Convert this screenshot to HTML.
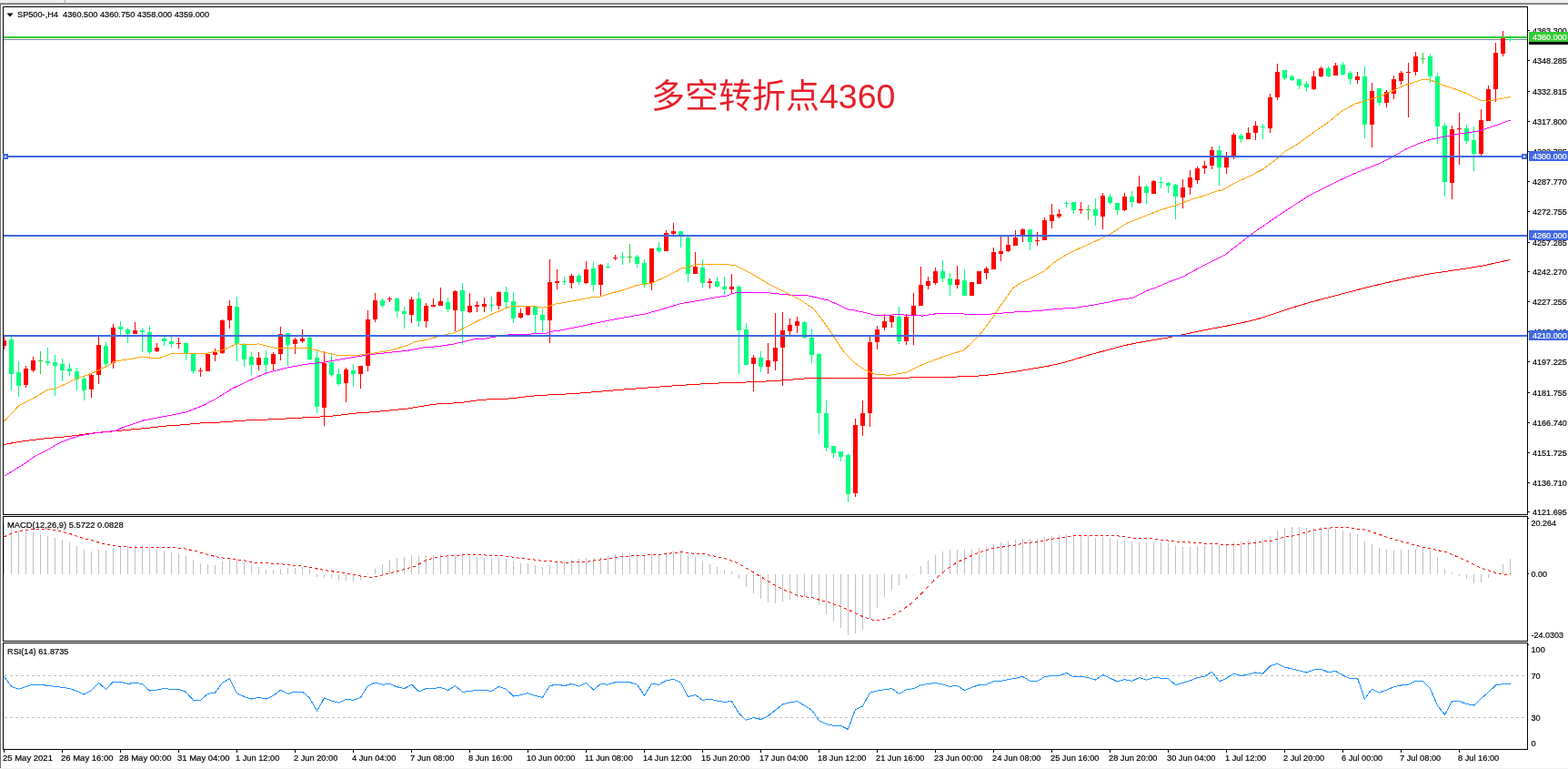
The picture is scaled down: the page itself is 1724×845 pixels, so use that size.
<!DOCTYPE html>
<html><head><meta charset="utf-8"><style>
html,body{margin:0;padding:0;background:#fff;}
body{width:1724px;height:845px;overflow:hidden;position:relative;}
#top{position:absolute;left:0;top:0;width:1724px;height:3px;background:#f0f0f0;}
#top2{position:absolute;left:0;top:3px;width:1724px;height:1px;background:#a0a0a0;}
#top3{position:absolute;left:0;top:4px;width:1724px;height:1px;background:#6d6d6d;}
#div{position:absolute;left:71px;top:0;width:1px;height:3px;background:#a0a0a0;border-right:1px solid #fff;}
#left{position:absolute;left:0;top:5px;width:1px;height:839px;background:#6d6d6d;}
#bot{position:absolute;left:0;top:844px;width:1724px;height:1px;background:#f0f0f0;}
svg{position:absolute;left:0;top:0;}
.ax{font-family:"Liberation Sans",sans-serif;font-size:9.6px;fill:#000;stroke:#000;stroke-width:0.2px;}
.cn{font-family:"Liberation Sans","Noto Sans CJK SC",sans-serif;font-size:37px;fill:#e6202a;}
</style></head><body>
<div id="top"></div><div id="top2"></div><div id="top3"></div><div id="div"></div><div id="left"></div><div id="bot"></div>
<svg width="1724" height="845" viewBox="0 0 1724 845">
<defs><clipPath id="cm"><rect x="4" y="8" width="1675" height="557"/></clipPath><clipPath id="cd"><rect x="4" y="568" width="1675" height="136"/></clipPath><clipPath id="cr"><rect x="4" y="707" width="1675" height="116"/></clipPath></defs><g clip-path="url(#cm)" shape-rendering="crispEdges"><rect x="4" y="43" width="1675" height="1" fill="#778899"/><rect x="4" y="370" width="1" height="14" fill="#ff0000"/><rect x="2" y="374" width="5" height="6" fill="#ff0000"/><rect x="12" y="370" width="1" height="59" fill="#00ff7f"/><rect x="10" y="373" width="5" height="38" fill="#00ff7f"/><rect x="20" y="397" width="1" height="39" fill="#00ff7f"/><rect x="18" y="409" width="5" height="15" fill="#00ff7f"/><rect x="28" y="402" width="1" height="24" fill="#ff0000"/><rect x="26" y="405" width="5" height="18" fill="#ff0000"/><rect x="36" y="392" width="1" height="17" fill="#ff0000"/><rect x="34" y="396" width="5" height="11" fill="#ff0000"/><rect x="44" y="386" width="1" height="25" fill="#32cd32"/><rect x="42" y="396" width="5" height="1" fill="#32cd32"/><rect x="52" y="382" width="1" height="20" fill="#00ff7f"/><rect x="50" y="397" width="5" height="2" fill="#00ff7f"/><rect x="60" y="390" width="1" height="45" fill="#00ff7f"/><rect x="58" y="398" width="5" height="4" fill="#00ff7f"/><rect x="68" y="394" width="1" height="25" fill="#00ff7f"/><rect x="66" y="400" width="5" height="7" fill="#00ff7f"/><rect x="76" y="399" width="1" height="14" fill="#00ff7f"/><rect x="74" y="405" width="5" height="3" fill="#00ff7f"/><rect x="84" y="404" width="1" height="25" fill="#00ff7f"/><rect x="82" y="408" width="5" height="9" fill="#00ff7f"/><rect x="92" y="413" width="1" height="27" fill="#00ff7f"/><rect x="90" y="416" width="5" height="13" fill="#00ff7f"/><rect x="100" y="411" width="1" height="26" fill="#ff0000"/><rect x="98" y="412" width="5" height="16" fill="#ff0000"/><rect x="108" y="370" width="1" height="52" fill="#ff0000"/><rect x="106" y="379" width="5" height="33" fill="#ff0000"/><rect x="116" y="376" width="1" height="28" fill="#00ff7f"/><rect x="114" y="380" width="5" height="20" fill="#00ff7f"/><rect x="124" y="356" width="1" height="49" fill="#ff0000"/><rect x="122" y="360" width="5" height="39" fill="#ff0000"/><rect x="132" y="353" width="1" height="15" fill="#00ff7f"/><rect x="130" y="359" width="5" height="3" fill="#00ff7f"/><rect x="140" y="360" width="1" height="17" fill="#00ff7f"/><rect x="138" y="362" width="5" height="5" fill="#00ff7f"/><rect x="148" y="354" width="1" height="13" fill="#ff0000"/><rect x="146" y="363" width="5" height="4" fill="#ff0000"/><rect x="156" y="361" width="1" height="26" fill="#00ff7f"/><rect x="154" y="363" width="5" height="2" fill="#00ff7f"/><rect x="164" y="358" width="1" height="31" fill="#00ff7f"/><rect x="162" y="365" width="5" height="22" fill="#00ff7f"/><rect x="172" y="377" width="1" height="10" fill="#ff0000"/><rect x="170" y="382" width="5" height="4" fill="#ff0000"/><rect x="180" y="370" width="1" height="10" fill="#00ff7f"/><rect x="178" y="372" width="5" height="3" fill="#00ff7f"/><rect x="188" y="370" width="1" height="12" fill="#00ff7f"/><rect x="186" y="375" width="5" height="3" fill="#00ff7f"/><rect x="196" y="371" width="1" height="12" fill="#ff0000"/><rect x="194" y="377" width="5" height="1" fill="#ff0000"/><rect x="204" y="376" width="1" height="20" fill="#00ff7f"/><rect x="202" y="377" width="5" height="11" fill="#00ff7f"/><rect x="212" y="388" width="1" height="23" fill="#00ff7f"/><rect x="210" y="389" width="5" height="19" fill="#00ff7f"/><rect x="220" y="404" width="1" height="10" fill="#ff0000"/><rect x="218" y="407" width="5" height="1" fill="#ff0000"/><rect x="228" y="389" width="1" height="19" fill="#ff0000"/><rect x="226" y="389" width="5" height="19" fill="#ff0000"/><rect x="236" y="383" width="1" height="14" fill="#ff0000"/><rect x="234" y="387" width="5" height="3" fill="#ff0000"/><rect x="244" y="351" width="1" height="38" fill="#ff0000"/><rect x="242" y="352" width="5" height="36" fill="#ff0000"/><rect x="252" y="330" width="1" height="31" fill="#ff0000"/><rect x="250" y="336" width="5" height="16" fill="#ff0000"/><rect x="260" y="326" width="1" height="71" fill="#00ff7f"/><rect x="258" y="337" width="5" height="41" fill="#00ff7f"/><rect x="268" y="377" width="1" height="26" fill="#00ff7f"/><rect x="266" y="379" width="5" height="16" fill="#00ff7f"/><rect x="276" y="387" width="1" height="25" fill="#00ff7f"/><rect x="274" y="392" width="5" height="9" fill="#00ff7f"/><rect x="284" y="387" width="1" height="20" fill="#ff0000"/><rect x="282" y="393" width="5" height="8" fill="#ff0000"/><rect x="292" y="385" width="1" height="25" fill="#00ff7f"/><rect x="290" y="393" width="5" height="8" fill="#00ff7f"/><rect x="300" y="387" width="1" height="20" fill="#ff0000"/><rect x="298" y="389" width="5" height="11" fill="#ff0000"/><rect x="308" y="359" width="1" height="37" fill="#ff0000"/><rect x="306" y="367" width="5" height="22" fill="#ff0000"/><rect x="316" y="366" width="1" height="36" fill="#00ff7f"/><rect x="314" y="366" width="5" height="13" fill="#00ff7f"/><rect x="324" y="371" width="1" height="18" fill="#ff0000"/><rect x="322" y="373" width="5" height="5" fill="#ff0000"/><rect x="332" y="362" width="1" height="15" fill="#ff0000"/><rect x="330" y="372" width="5" height="3" fill="#ff0000"/><rect x="340" y="370" width="1" height="26" fill="#00ff7f"/><rect x="338" y="371" width="5" height="24" fill="#00ff7f"/><rect x="348" y="384" width="1" height="70" fill="#00ff7f"/><rect x="346" y="393" width="5" height="54" fill="#00ff7f"/><rect x="356" y="386" width="1" height="82" fill="#ff0000"/><rect x="354" y="399" width="5" height="49" fill="#ff0000"/><rect x="364" y="388" width="1" height="26" fill="#00ff7f"/><rect x="362" y="398" width="5" height="14" fill="#00ff7f"/><rect x="372" y="405" width="1" height="19" fill="#00ff7f"/><rect x="370" y="411" width="5" height="11" fill="#00ff7f"/><rect x="380" y="404" width="1" height="38" fill="#ff0000"/><rect x="378" y="406" width="5" height="15" fill="#ff0000"/><rect x="388" y="400" width="1" height="24" fill="#00ff7f"/><rect x="386" y="407" width="5" height="4" fill="#00ff7f"/><rect x="396" y="402" width="1" height="25" fill="#ff0000"/><rect x="394" y="402" width="5" height="9" fill="#ff0000"/><rect x="404" y="341" width="1" height="67" fill="#ff0000"/><rect x="402" y="351" width="5" height="51" fill="#ff0000"/><rect x="412" y="322" width="1" height="32" fill="#ff0000"/><rect x="410" y="330" width="5" height="21" fill="#ff0000"/><rect x="420" y="328" width="1" height="10" fill="#00ff7f"/><rect x="418" y="330" width="5" height="6" fill="#00ff7f"/><rect x="428" y="326" width="1" height="6" fill="#ff0000"/><rect x="426" y="328" width="5" height="1" fill="#ff0000"/><rect x="436" y="327" width="1" height="22" fill="#00ff7f"/><rect x="434" y="328" width="5" height="14" fill="#00ff7f"/><rect x="444" y="337" width="1" height="24" fill="#00ff7f"/><rect x="442" y="342" width="5" height="3" fill="#00ff7f"/><rect x="452" y="326" width="1" height="29" fill="#ff0000"/><rect x="450" y="329" width="5" height="17" fill="#ff0000"/><rect x="460" y="321" width="1" height="38" fill="#00ff7f"/><rect x="458" y="328" width="5" height="25" fill="#00ff7f"/><rect x="468" y="333" width="1" height="27" fill="#ff0000"/><rect x="466" y="336" width="5" height="17" fill="#ff0000"/><rect x="476" y="328" width="1" height="9" fill="#ff0000"/><rect x="474" y="335" width="5" height="2" fill="#ff0000"/><rect x="484" y="316" width="1" height="20" fill="#ff0000"/><rect x="482" y="331" width="5" height="5" fill="#ff0000"/><rect x="492" y="327" width="1" height="16" fill="#00ff7f"/><rect x="490" y="332" width="5" height="8" fill="#00ff7f"/><rect x="500" y="319" width="1" height="45" fill="#ff0000"/><rect x="498" y="320" width="5" height="21" fill="#ff0000"/><rect x="508" y="311" width="1" height="68" fill="#00ff7f"/><rect x="506" y="319" width="5" height="23" fill="#00ff7f"/><rect x="516" y="322" width="1" height="22" fill="#ff0000"/><rect x="514" y="336" width="5" height="7" fill="#ff0000"/><rect x="524" y="331" width="1" height="12" fill="#ff0000"/><rect x="522" y="335" width="5" height="2" fill="#ff0000"/><rect x="532" y="327" width="1" height="16" fill="#ff0000"/><rect x="530" y="334" width="5" height="3" fill="#ff0000"/><rect x="540" y="326" width="1" height="16" fill="#00ff7f"/><rect x="538" y="335" width="5" height="1" fill="#00ff7f"/><rect x="548" y="320" width="1" height="20" fill="#ff0000"/><rect x="546" y="321" width="5" height="15" fill="#ff0000"/><rect x="556" y="315" width="1" height="23" fill="#00ff7f"/><rect x="554" y="321" width="5" height="11" fill="#00ff7f"/><rect x="564" y="321" width="1" height="34" fill="#00ff7f"/><rect x="562" y="331" width="5" height="19" fill="#00ff7f"/><rect x="572" y="339" width="1" height="11" fill="#ff0000"/><rect x="570" y="344" width="5" height="5" fill="#ff0000"/><rect x="580" y="337" width="1" height="10" fill="#ff0000"/><rect x="578" y="337" width="5" height="9" fill="#ff0000"/><rect x="588" y="336" width="1" height="30" fill="#00ff7f"/><rect x="586" y="337" width="5" height="9" fill="#00ff7f"/><rect x="596" y="340" width="1" height="25" fill="#00ff7f"/><rect x="594" y="346" width="5" height="6" fill="#00ff7f"/><rect x="604" y="285" width="1" height="92" fill="#ff0000"/><rect x="602" y="310" width="5" height="42" fill="#ff0000"/><rect x="612" y="296" width="1" height="22" fill="#ff0000"/><rect x="610" y="309" width="5" height="2" fill="#ff0000"/><rect x="620" y="304" width="1" height="9" fill="#00ff7f"/><rect x="618" y="309" width="5" height="1" fill="#00ff7f"/><rect x="628" y="301" width="1" height="16" fill="#ff0000"/><rect x="626" y="303" width="5" height="8" fill="#ff0000"/><rect x="636" y="301" width="1" height="12" fill="#00ff7f"/><rect x="634" y="303" width="5" height="7" fill="#00ff7f"/><rect x="644" y="287" width="1" height="25" fill="#ff0000"/><rect x="642" y="296" width="5" height="15" fill="#ff0000"/><rect x="652" y="288" width="1" height="32" fill="#00ff7f"/><rect x="650" y="295" width="5" height="18" fill="#00ff7f"/><rect x="660" y="290" width="1" height="35" fill="#ff0000"/><rect x="658" y="291" width="5" height="22" fill="#ff0000"/><rect x="668" y="289" width="1" height="6" fill="#00ff7f"/><rect x="666" y="293" width="5" height="1" fill="#00ff7f"/><rect x="676" y="280" width="1" height="6" fill="#ff0000"/><rect x="674" y="283" width="5" height="1" fill="#ff0000"/><rect x="684" y="277" width="1" height="14" fill="#00ff7f"/><rect x="682" y="282" width="5" height="1" fill="#00ff7f"/><rect x="692" y="268" width="1" height="21" fill="#32cd32"/><rect x="690" y="282" width="5" height="1" fill="#32cd32"/><rect x="700" y="280" width="1" height="14" fill="#00ff7f"/><rect x="698" y="282" width="5" height="8" fill="#00ff7f"/><rect x="708" y="285" width="1" height="31" fill="#00ff7f"/><rect x="706" y="289" width="5" height="23" fill="#00ff7f"/><rect x="716" y="273" width="1" height="46" fill="#ff0000"/><rect x="714" y="273" width="5" height="38" fill="#ff0000"/><rect x="724" y="266" width="1" height="12" fill="#00ff7f"/><rect x="722" y="272" width="5" height="4" fill="#00ff7f"/><rect x="732" y="253" width="1" height="23" fill="#ff0000"/><rect x="730" y="256" width="5" height="20" fill="#ff0000"/><rect x="740" y="245" width="1" height="13" fill="#ff0000"/><rect x="738" y="254" width="5" height="3" fill="#ff0000"/><rect x="748" y="254" width="1" height="18" fill="#00ff7f"/><rect x="746" y="254" width="5" height="6" fill="#00ff7f"/><rect x="756" y="260" width="1" height="50" fill="#00ff7f"/><rect x="754" y="261" width="5" height="40" fill="#00ff7f"/><rect x="764" y="277" width="1" height="24" fill="#ff0000"/><rect x="762" y="293" width="5" height="8" fill="#ff0000"/><rect x="772" y="285" width="1" height="31" fill="#00ff7f"/><rect x="770" y="294" width="5" height="17" fill="#00ff7f"/><rect x="780" y="306" width="1" height="11" fill="#ff0000"/><rect x="778" y="309" width="5" height="2" fill="#ff0000"/><rect x="788" y="304" width="1" height="12" fill="#00ff7f"/><rect x="786" y="309" width="5" height="6" fill="#00ff7f"/><rect x="796" y="304" width="1" height="20" fill="#00ff7f"/><rect x="794" y="315" width="5" height="3" fill="#00ff7f"/><rect x="804" y="301" width="1" height="21" fill="#ff0000"/><rect x="802" y="315" width="5" height="3" fill="#ff0000"/><rect x="812" y="313" width="1" height="98" fill="#00ff7f"/><rect x="810" y="315" width="5" height="48" fill="#00ff7f"/><rect x="820" y="355" width="1" height="46" fill="#00ff7f"/><rect x="818" y="362" width="5" height="39" fill="#00ff7f"/><rect x="828" y="390" width="1" height="40" fill="#ff0000"/><rect x="826" y="393" width="5" height="7" fill="#ff0000"/><rect x="836" y="386" width="1" height="23" fill="#00ff7f"/><rect x="834" y="393" width="5" height="10" fill="#00ff7f"/><rect x="844" y="377" width="1" height="34" fill="#ff0000"/><rect x="842" y="396" width="5" height="7" fill="#ff0000"/><rect x="852" y="344" width="1" height="63" fill="#ff0000"/><rect x="850" y="382" width="5" height="15" fill="#ff0000"/><rect x="860" y="343" width="1" height="81" fill="#ff0000"/><rect x="858" y="363" width="5" height="19" fill="#ff0000"/><rect x="868" y="350" width="1" height="18" fill="#ff0000"/><rect x="866" y="357" width="5" height="7" fill="#ff0000"/><rect x="876" y="348" width="1" height="18" fill="#ff0000"/><rect x="874" y="353" width="5" height="5" fill="#ff0000"/><rect x="884" y="353" width="1" height="19" fill="#00ff7f"/><rect x="882" y="354" width="5" height="17" fill="#00ff7f"/><rect x="892" y="361" width="1" height="38" fill="#00ff7f"/><rect x="890" y="371" width="5" height="19" fill="#00ff7f"/><rect x="900" y="388" width="1" height="89" fill="#00ff7f"/><rect x="898" y="389" width="5" height="65" fill="#00ff7f"/><rect x="908" y="440" width="1" height="56" fill="#00ff7f"/><rect x="906" y="454" width="5" height="38" fill="#00ff7f"/><rect x="916" y="490" width="1" height="13" fill="#00ff7f"/><rect x="914" y="490" width="5" height="8" fill="#00ff7f"/><rect x="924" y="496" width="1" height="11" fill="#00ff7f"/><rect x="922" y="496" width="5" height="6" fill="#00ff7f"/><rect x="932" y="498" width="1" height="54" fill="#00ff7f"/><rect x="930" y="500" width="5" height="43" fill="#00ff7f"/><rect x="940" y="460" width="1" height="86" fill="#ff0000"/><rect x="938" y="467" width="5" height="75" fill="#ff0000"/><rect x="948" y="440" width="1" height="39" fill="#ff0000"/><rect x="946" y="454" width="5" height="14" fill="#ff0000"/><rect x="956" y="370" width="1" height="99" fill="#ff0000"/><rect x="954" y="376" width="5" height="78" fill="#ff0000"/><rect x="964" y="358" width="1" height="26" fill="#ff0000"/><rect x="962" y="362" width="5" height="14" fill="#ff0000"/><rect x="972" y="345" width="1" height="18" fill="#ff0000"/><rect x="970" y="353" width="5" height="7" fill="#ff0000"/><rect x="980" y="347" width="1" height="13" fill="#ff0000"/><rect x="978" y="347" width="5" height="7" fill="#ff0000"/><rect x="988" y="337" width="1" height="41" fill="#00ff7f"/><rect x="986" y="348" width="5" height="27" fill="#00ff7f"/><rect x="996" y="345" width="1" height="34" fill="#ff0000"/><rect x="994" y="348" width="5" height="27" fill="#ff0000"/><rect x="1004" y="322" width="1" height="57" fill="#ff0000"/><rect x="1002" y="336" width="5" height="11" fill="#ff0000"/><rect x="1012" y="293" width="1" height="43" fill="#ff0000"/><rect x="1010" y="313" width="5" height="23" fill="#ff0000"/><rect x="1020" y="304" width="1" height="14" fill="#ff0000"/><rect x="1018" y="309" width="5" height="5" fill="#ff0000"/><rect x="1028" y="294" width="1" height="19" fill="#ff0000"/><rect x="1026" y="298" width="5" height="13" fill="#ff0000"/><rect x="1036" y="286" width="1" height="24" fill="#00ff7f"/><rect x="1034" y="298" width="5" height="8" fill="#00ff7f"/><rect x="1044" y="300" width="1" height="25" fill="#00ff7f"/><rect x="1042" y="306" width="5" height="7" fill="#00ff7f"/><rect x="1052" y="292" width="1" height="25" fill="#ff0000"/><rect x="1050" y="307" width="5" height="6" fill="#ff0000"/><rect x="1060" y="296" width="1" height="29" fill="#00ff7f"/><rect x="1058" y="308" width="5" height="17" fill="#00ff7f"/><rect x="1068" y="310" width="1" height="15" fill="#ff0000"/><rect x="1066" y="310" width="5" height="15" fill="#ff0000"/><rect x="1076" y="298" width="1" height="14" fill="#ff0000"/><rect x="1074" y="298" width="5" height="14" fill="#ff0000"/><rect x="1084" y="293" width="1" height="14" fill="#ff0000"/><rect x="1082" y="295" width="5" height="5" fill="#ff0000"/><rect x="1092" y="272" width="1" height="24" fill="#ff0000"/><rect x="1090" y="277" width="5" height="19" fill="#ff0000"/><rect x="1100" y="260" width="1" height="27" fill="#ff0000"/><rect x="1098" y="276" width="5" height="3" fill="#ff0000"/><rect x="1108" y="260" width="1" height="17" fill="#ff0000"/><rect x="1106" y="269" width="5" height="7" fill="#ff0000"/><rect x="1116" y="253" width="1" height="17" fill="#ff0000"/><rect x="1114" y="261" width="5" height="9" fill="#ff0000"/><rect x="1124" y="251" width="1" height="15" fill="#ff0000"/><rect x="1122" y="252" width="5" height="8" fill="#ff0000"/><rect x="1132" y="252" width="1" height="23" fill="#00ff7f"/><rect x="1130" y="252" width="5" height="14" fill="#00ff7f"/><rect x="1140" y="255" width="1" height="15" fill="#ff0000"/><rect x="1138" y="264" width="5" height="1" fill="#ff0000"/><rect x="1148" y="239" width="1" height="25" fill="#ff0000"/><rect x="1146" y="242" width="5" height="22" fill="#ff0000"/><rect x="1156" y="224" width="1" height="27" fill="#ff0000"/><rect x="1154" y="236" width="5" height="7" fill="#ff0000"/><rect x="1164" y="230" width="1" height="10" fill="#ff0000"/><rect x="1162" y="235" width="5" height="3" fill="#ff0000"/><rect x="1172" y="221" width="1" height="7" fill="#00ff7f"/><rect x="1170" y="223" width="5" height="1" fill="#00ff7f"/><rect x="1180" y="222" width="1" height="13" fill="#00ff7f"/><rect x="1178" y="222" width="5" height="9" fill="#00ff7f"/><rect x="1188" y="222" width="1" height="13" fill="#ff0000"/><rect x="1186" y="230" width="5" height="1" fill="#ff0000"/><rect x="1196" y="225" width="1" height="17" fill="#32cd32"/><rect x="1194" y="230" width="5" height="1" fill="#32cd32"/><rect x="1204" y="218" width="1" height="30" fill="#00ff7f"/><rect x="1202" y="230" width="5" height="7" fill="#00ff7f"/><rect x="1212" y="212" width="1" height="40" fill="#ff0000"/><rect x="1210" y="215" width="5" height="23" fill="#ff0000"/><rect x="1220" y="213" width="1" height="12" fill="#00ff7f"/><rect x="1218" y="216" width="5" height="7" fill="#00ff7f"/><rect x="1228" y="223" width="1" height="13" fill="#00ff7f"/><rect x="1226" y="223" width="5" height="8" fill="#00ff7f"/><rect x="1236" y="212" width="1" height="20" fill="#ff0000"/><rect x="1234" y="216" width="5" height="15" fill="#ff0000"/><rect x="1244" y="210" width="1" height="18" fill="#00ff7f"/><rect x="1242" y="216" width="5" height="6" fill="#00ff7f"/><rect x="1252" y="193" width="1" height="31" fill="#ff0000"/><rect x="1250" y="205" width="5" height="18" fill="#ff0000"/><rect x="1260" y="203" width="1" height="21" fill="#00ff7f"/><rect x="1258" y="205" width="5" height="7" fill="#00ff7f"/><rect x="1268" y="198" width="1" height="15" fill="#ff0000"/><rect x="1266" y="199" width="5" height="14" fill="#ff0000"/><rect x="1276" y="195" width="1" height="12" fill="#00ff7f"/><rect x="1274" y="200" width="5" height="1" fill="#00ff7f"/><rect x="1284" y="200" width="1" height="12" fill="#00ff7f"/><rect x="1282" y="201" width="5" height="3" fill="#00ff7f"/><rect x="1292" y="202" width="1" height="39" fill="#00ff7f"/><rect x="1290" y="203" width="5" height="13" fill="#00ff7f"/><rect x="1300" y="197" width="1" height="32" fill="#ff0000"/><rect x="1298" y="206" width="5" height="11" fill="#ff0000"/><rect x="1308" y="187" width="1" height="27" fill="#ff0000"/><rect x="1306" y="195" width="5" height="11" fill="#ff0000"/><rect x="1316" y="183" width="1" height="19" fill="#ff0000"/><rect x="1314" y="185" width="5" height="13" fill="#ff0000"/><rect x="1324" y="177" width="1" height="14" fill="#ff0000"/><rect x="1322" y="182" width="5" height="3" fill="#ff0000"/><rect x="1332" y="161" width="1" height="25" fill="#ff0000"/><rect x="1330" y="165" width="5" height="17" fill="#ff0000"/><rect x="1340" y="160" width="1" height="44" fill="#00ff7f"/><rect x="1338" y="165" width="5" height="19" fill="#00ff7f"/><rect x="1348" y="167" width="1" height="24" fill="#ff0000"/><rect x="1346" y="173" width="5" height="11" fill="#ff0000"/><rect x="1356" y="146" width="1" height="29" fill="#ff0000"/><rect x="1354" y="148" width="5" height="24" fill="#ff0000"/><rect x="1364" y="147" width="1" height="10" fill="#00ff7f"/><rect x="1362" y="149" width="5" height="4" fill="#00ff7f"/><rect x="1372" y="140" width="1" height="13" fill="#ff0000"/><rect x="1370" y="146" width="5" height="7" fill="#ff0000"/><rect x="1380" y="133" width="1" height="21" fill="#ff0000"/><rect x="1378" y="138" width="5" height="8" fill="#ff0000"/><rect x="1388" y="136" width="1" height="17" fill="#00ff7f"/><rect x="1386" y="139" width="5" height="1" fill="#00ff7f"/><rect x="1396" y="103" width="1" height="43" fill="#ff0000"/><rect x="1394" y="107" width="5" height="34" fill="#ff0000"/><rect x="1404" y="70" width="1" height="40" fill="#ff0000"/><rect x="1402" y="79" width="5" height="28" fill="#ff0000"/><rect x="1412" y="77" width="1" height="11" fill="#00ff7f"/><rect x="1410" y="77" width="5" height="9" fill="#00ff7f"/><rect x="1420" y="82" width="1" height="7" fill="#00ff7f"/><rect x="1418" y="84" width="5" height="4" fill="#00ff7f"/><rect x="1428" y="87" width="1" height="11" fill="#00ff7f"/><rect x="1426" y="87" width="5" height="7" fill="#00ff7f"/><rect x="1436" y="89" width="1" height="12" fill="#00ff7f"/><rect x="1434" y="92" width="5" height="4" fill="#00ff7f"/><rect x="1444" y="78" width="1" height="21" fill="#ff0000"/><rect x="1442" y="84" width="5" height="14" fill="#ff0000"/><rect x="1452" y="73" width="1" height="12" fill="#ff0000"/><rect x="1450" y="75" width="5" height="9" fill="#ff0000"/><rect x="1460" y="73" width="1" height="12" fill="#00ff7f"/><rect x="1458" y="75" width="5" height="9" fill="#00ff7f"/><rect x="1468" y="69" width="1" height="14" fill="#ff0000"/><rect x="1466" y="72" width="5" height="11" fill="#ff0000"/><rect x="1476" y="68" width="1" height="15" fill="#00ff7f"/><rect x="1474" y="71" width="5" height="11" fill="#00ff7f"/><rect x="1484" y="78" width="1" height="15" fill="#00ff7f"/><rect x="1482" y="80" width="5" height="7" fill="#00ff7f"/><rect x="1492" y="79" width="1" height="13" fill="#ff0000"/><rect x="1490" y="84" width="5" height="4" fill="#ff0000"/><rect x="1500" y="73" width="1" height="79" fill="#00ff7f"/><rect x="1498" y="84" width="5" height="53" fill="#00ff7f"/><rect x="1508" y="91" width="1" height="71" fill="#ff0000"/><rect x="1506" y="100" width="5" height="37" fill="#ff0000"/><rect x="1516" y="97" width="1" height="19" fill="#00ff7f"/><rect x="1514" y="97" width="5" height="16" fill="#00ff7f"/><rect x="1524" y="99" width="1" height="19" fill="#ff0000"/><rect x="1522" y="101" width="5" height="12" fill="#ff0000"/><rect x="1532" y="83" width="1" height="26" fill="#ff0000"/><rect x="1530" y="87" width="5" height="16" fill="#ff0000"/><rect x="1540" y="78" width="1" height="15" fill="#ff0000"/><rect x="1538" y="80" width="5" height="9" fill="#ff0000"/><rect x="1548" y="69" width="1" height="60" fill="#ff0000"/><rect x="1546" y="79" width="5" height="1" fill="#ff0000"/><rect x="1556" y="57" width="1" height="26" fill="#ff0000"/><rect x="1554" y="62" width="5" height="17" fill="#ff0000"/><rect x="1564" y="58" width="1" height="12" fill="#32cd32"/><rect x="1562" y="64" width="5" height="1" fill="#32cd32"/><rect x="1572" y="59" width="1" height="32" fill="#00ff7f"/><rect x="1570" y="62" width="5" height="22" fill="#00ff7f"/><rect x="1580" y="80" width="1" height="78" fill="#00ff7f"/><rect x="1578" y="84" width="5" height="55" fill="#00ff7f"/><rect x="1588" y="135" width="1" height="81" fill="#00ff7f"/><rect x="1586" y="138" width="5" height="62" fill="#00ff7f"/><rect x="1596" y="138" width="1" height="81" fill="#ff0000"/><rect x="1594" y="142" width="5" height="59" fill="#ff0000"/><rect x="1604" y="124" width="1" height="57" fill="#ff0000"/><rect x="1602" y="141" width="5" height="1" fill="#ff0000"/><rect x="1612" y="137" width="1" height="21" fill="#00ff7f"/><rect x="1610" y="141" width="5" height="14" fill="#00ff7f"/><rect x="1620" y="139" width="1" height="49" fill="#00ff7f"/><rect x="1618" y="154" width="5" height="15" fill="#00ff7f"/><rect x="1628" y="120" width="1" height="51" fill="#ff0000"/><rect x="1626" y="132" width="5" height="37" fill="#ff0000"/><rect x="1636" y="94" width="1" height="39" fill="#ff0000"/><rect x="1634" y="98" width="5" height="35" fill="#ff0000"/><rect x="1644" y="47" width="1" height="65" fill="#ff0000"/><rect x="1642" y="58" width="5" height="40" fill="#ff0000"/><rect x="1652" y="34" width="1" height="28" fill="#ff0000"/><rect x="1650" y="42" width="5" height="17" fill="#ff0000"/><rect x="1660" y="39" width="1" height="7" fill="#00ff7f"/><rect x="1658" y="43" width="5" height="1" fill="#00ff7f"/><polyline points="4.5,488.5 8.5,487.8 12.5,487.0 16.5,486.3 20.5,485.7 24.5,485.0 28.5,484.5 32.5,483.9 36.5,483.4 40.5,482.9 44.5,482.5 48.5,482.0 52.5,481.6 56.5,481.2 60.5,480.9 64.5,480.5 68.5,480.2 72.5,479.8 76.5,479.3 80.5,478.9 84.5,478.3 88.5,477.8 92.5,477.2 96.5,476.7 100.5,476.2 104.5,475.7 108.5,475.3 112.5,474.9 116.5,474.6 120.5,474.3 124.5,473.9 128.5,473.6 132.5,473.2 136.5,472.8 140.5,472.4 144.5,472.0 148.5,471.7 152.5,471.3 156.5,470.9 160.5,470.5 164.5,470.1 168.5,469.6 172.5,469.2 176.5,468.8 180.5,468.3 184.5,467.9 188.5,467.6 192.5,467.4 196.5,467.1 200.5,466.8 204.5,466.5 208.5,466.1 212.5,465.6 216.5,465.3 220.5,465.0 224.5,464.8 228.5,464.6 232.5,464.4 236.5,464.2 240.5,464.1 244.5,463.9 248.5,463.6 252.5,463.3 256.5,463.0 260.5,462.7 264.5,462.4 268.5,462.1 272.5,461.9 276.5,461.7 280.5,461.6 284.5,461.4 288.5,461.3 292.5,461.1 296.5,460.9 300.5,460.7 304.5,460.5 308.5,460.3 312.5,460.1 316.5,459.9 320.5,459.6 324.5,459.4 328.5,459.2 332.5,459.0 336.5,458.8 340.5,458.6 344.5,458.4 348.5,458.2 352.5,458.0 356.5,457.7 360.5,457.4 364.5,457.1 368.5,456.8 372.5,456.3 376.5,455.9 380.5,455.3 384.5,454.9 388.5,454.4 392.5,454.0 396.5,453.7 400.5,453.4 404.5,453.1 408.5,452.9 412.5,452.6 416.5,452.2 420.5,451.8 424.5,451.4 428.5,451.0 432.5,450.6 436.5,450.2 440.5,449.8 444.5,449.4 448.5,448.9 452.5,448.3 456.5,447.7 460.5,447.0 464.5,446.3 468.5,445.6 472.5,445.0 476.5,444.4 480.5,444.0 484.5,443.7 488.5,443.5 492.5,443.3 496.5,443.1 500.5,442.9 504.5,442.6 508.5,442.2 512.5,441.7 516.5,441.1 520.5,440.5 524.5,440.0 528.5,439.6 532.5,439.2 536.5,438.9 540.5,438.7 544.5,438.6 548.5,438.5 552.5,438.4 556.5,438.2 560.5,437.9 564.5,437.5 568.5,437.1 572.5,436.6 576.5,436.1 580.5,435.6 584.5,435.2 588.5,434.9 592.5,434.6 596.5,434.3 600.5,434.1 604.5,433.9 608.5,433.7 612.5,433.5 616.5,433.3 620.5,433.1 624.5,432.9 628.5,432.7 632.5,432.4 636.5,432.1 640.5,431.8 644.5,431.5 648.5,431.2 652.5,430.8 656.5,430.5 660.5,430.2 664.5,429.8 668.5,429.5 672.5,429.1 676.5,428.8 680.5,428.4 684.5,428.1 688.5,427.8 692.5,427.5 696.5,427.2 700.5,426.9 704.5,426.6 708.5,426.3 712.5,426.0 716.5,425.7 720.5,425.4 724.5,425.1 728.5,424.8 732.5,424.5 736.5,424.2 740.5,423.9 744.5,423.7 748.5,423.4 752.5,423.1 756.5,422.8 760.5,422.6 764.5,422.3 768.5,422.1 772.5,421.8 776.5,421.6 780.5,421.4 784.5,421.2 788.5,421.1 792.5,420.9 796.5,420.8 800.5,420.7 804.5,420.6 808.5,420.4 812.5,420.3 816.5,420.2 820.5,420.0 824.5,419.9 828.5,419.7 832.5,419.5 836.5,419.3 840.5,419.1 844.5,418.8 848.5,418.6 852.5,418.4 856.5,418.2 860.5,417.9 864.5,417.6 868.5,417.3 872.5,417.0 876.5,416.7 880.5,416.3 884.5,416.0 888.5,415.7 892.5,415.7 896.5,415.6 900.5,415.6 904.5,415.6 908.5,415.7 912.5,415.8 916.5,415.7 920.5,415.7 924.5,415.6 928.5,415.5 932.5,415.5 936.5,415.5 940.5,415.4 944.5,415.4 948.5,415.3 952.5,415.3 956.5,415.3 960.5,415.3 964.5,415.3 968.5,415.3 972.5,415.3 976.5,415.4 980.5,415.4 984.5,415.4 988.5,415.3 992.5,415.2 996.5,415.1 1000.5,415.0 1004.5,414.8 1008.5,414.7 1012.5,414.5 1016.5,414.4 1020.5,414.4 1024.5,414.3 1028.5,414.3 1032.5,414.2 1036.5,414.2 1040.5,414.1 1044.5,414.1 1048.5,414.1 1052.5,414.0 1056.5,413.9 1060.5,413.8 1064.5,413.7 1068.5,413.5 1072.5,413.2 1076.5,413.0 1080.5,412.6 1084.5,412.3 1088.5,411.9 1092.5,411.5 1096.5,411.0 1100.5,410.5 1104.5,410.0 1108.5,409.4 1112.5,408.8 1116.5,408.2 1120.5,407.6 1124.5,407.0 1128.5,406.3 1132.5,405.7 1136.5,405.0 1140.5,404.3 1144.5,403.6 1148.5,402.9 1152.5,402.2 1156.5,401.4 1160.5,400.5 1164.5,399.6 1168.5,398.6 1172.5,397.5 1176.5,396.4 1180.5,395.2 1184.5,393.9 1188.5,392.7 1192.5,391.5 1196.5,390.3 1200.5,389.2 1204.5,388.1 1208.5,387.0 1212.5,386.0 1216.5,384.9 1220.5,383.8 1224.5,382.8 1228.5,381.7 1232.5,380.7 1236.5,379.7 1240.5,378.8 1244.5,378.0 1248.5,377.1 1252.5,376.4 1256.5,375.6 1260.5,375.0 1264.5,374.3 1268.5,373.6 1272.5,372.9 1276.5,372.2 1280.5,371.6 1284.5,370.9 1288.5,370.1 1292.5,369.4 1296.5,368.6 1300.5,367.8 1304.5,366.9 1308.5,366.0 1312.5,365.1 1316.5,364.3 1320.5,363.5 1324.5,362.7 1328.5,361.9 1332.5,361.1 1336.5,360.4 1340.5,359.7 1344.5,358.9 1348.5,358.2 1352.5,357.4 1356.5,356.6 1360.5,355.8 1364.5,354.9 1368.5,354.0 1372.5,353.2 1376.5,352.2 1380.5,351.2 1384.5,350.0 1388.5,348.9 1392.5,347.6 1396.5,346.2 1400.5,344.8 1404.5,343.5 1408.5,342.1 1412.5,340.8 1416.5,339.5 1420.5,338.2 1424.5,337.0 1428.5,335.8 1432.5,334.6 1436.5,333.4 1440.5,332.2 1444.5,331.1 1448.5,330.0 1452.5,328.9 1456.5,327.9 1460.5,326.8 1464.5,325.8 1468.5,324.8 1472.5,323.8 1476.5,322.7 1480.5,321.7 1484.5,320.6 1488.5,319.6 1492.5,318.5 1496.5,317.5 1500.5,316.4 1504.5,315.4 1508.5,314.4 1512.5,313.5 1516.5,312.5 1520.5,311.6 1524.5,310.7 1528.5,309.8 1532.5,308.9 1536.5,308.0 1540.5,307.2 1544.5,306.3 1548.5,305.5 1552.5,304.7 1556.5,303.9 1560.5,303.1 1564.5,302.3 1568.5,301.6 1572.5,300.9 1576.5,300.3 1580.5,299.7 1584.5,299.1 1588.5,298.5 1592.5,297.9 1596.5,297.3 1600.5,296.7 1604.5,296.1 1608.5,295.5 1612.5,294.9 1616.5,294.3 1620.5,293.6 1624.5,293.0 1628.5,292.2 1632.5,291.5 1636.5,290.7 1640.5,289.8 1644.5,288.9 1648.5,288.1 1652.5,287.2 1656.5,286.4 1660.5,285.5" fill="none" stroke="#ff0000" stroke-width="1" /><polyline points="4.5,523.4 26.0,510.0 38.8,501.2 51.5,494.9 64.3,487.2 77.1,482.0 89.8,478.3 102.5,476.2 128.1,473.2 134.5,470.0 153.5,463.5 157.5,462.0 179.2,457.8 184.0,457.0 204.5,453.0 224.5,445.0 236.5,438.8 254.5,427.4 276.5,417.0 292.5,410.0 316.5,403.8 336.5,400.3 356.5,398.0 381.5,393.7 404.5,390.0 429.5,387.2 448.5,385.2 468.5,381.4 481.5,380.8 500.5,377.7 524.5,372.0 532.5,372.4 544.5,370.0 559.1,367.8 584.5,367.0 596.5,366.8 599.5,366.4 609.2,363.7 612.5,363.8 636.5,358.9 660.2,354.0 672.5,351.5 684.5,349.3 709.9,344.8 724.5,340.8 749.0,333.5 764.5,331.0 784.5,327.2 800.5,324.7 804.5,322.8 812.9,321.1 839.5,321.3 866.0,323.9 870.5,324.7 886.0,324.3 896.5,326.7 911.5,330.2 932.5,340.0 937.1,340.4 956.5,344.7 962.5,346.8 988.5,345.7 1014.5,347.1 1032.5,344.2 1039.2,344.2 1058.5,344.9 1064.5,345.5 1089.3,345.1 1115.5,343.0 1140.9,341.6 1166.5,339.1 1180.5,338.5 1200.4,335.5 1216.0,332.6 1230.2,329.4 1245.8,327.3 1258.6,320.5 1272.8,315.2 1287.0,309.2 1300.5,304.2 1319.1,294.0 1346.6,280.2 1377.5,256.2 1404.9,237.3 1439.2,215.0 1473.6,197.9 1490.5,190.1 1517.7,179.2 1531.3,172.4 1544.9,164.3 1558.5,158.3 1572.2,153.4 1599.4,147.9 1626.6,143.8 1642.9,138.4 1660.6,132.1" fill="none" stroke="#ff00ff" stroke-width="1" /><polyline points="4.5,463.0 20.5,446.0 40.5,435.5 51.5,428.5 60.5,427.0 77.1,419.6 80.5,417.5 101.5,409.9 116.5,403.0 124.5,398.0 128.1,396.6 140.5,395.0 156.5,392.0 164.5,393.0 176.5,393.0 188.5,388.6 204.5,388.0 220.5,389.0 228.5,388.0 244.5,384.8 260.5,377.8 276.5,379.0 284.5,377.8 300.5,382.0 316.5,382.5 336.5,382.0 340.5,383.0 356.5,387.3 371.1,390.5 392.5,390.5 412.5,387.8 429.5,385.1 448.5,379.2 456.0,375.7 468.5,373.5 484.5,369.1 494.3,366.8 500.5,365.3 507.8,361.9 524.5,353.0 540.5,345.5 559.3,337.2 564.5,336.7 583.5,336.2 588.5,336.7 597.2,338.2 604.5,336.3 609.2,334.4 628.5,331.0 652.5,326.3 660.2,326.0 672.5,322.0 684.5,319.0 700.5,313.3 711.3,311.9 716.5,311.0 732.5,303.9 749.0,295.1 756.5,293.4 764.5,290.6 767.5,290.7 784.5,290.6 807.3,291.1 826.3,300.6 845.2,312.0 864.1,321.4 879.3,329.0 894.4,339.2 905.8,353.6 917.2,370.7 928.5,387.7 939.9,399.0 951.3,406.7 962.5,411.2 977.8,412.3 996.7,409.3 1012.1,401.6 1016.5,399.7 1038.8,391.4 1060.0,384.6 1077.0,368.0 1090.4,350.5 1099.9,336.1 1114.1,316.3 1122.7,310.6 1136.9,303.5 1148.2,297.8 1159.6,287.8 1171.0,280.7 1185.2,273.6 1199.4,267.4 1219.3,258.0 1239.1,245.2 1260.5,236.7 1276.5,230.5 1292.5,225.8 1312.5,218.2 1324.5,214.9 1340.5,209.0 1343.5,209.2 1356.5,201.7 1372.5,194.2 1389.0,185.7 1404.5,174.0 1408.2,170.8 1412.5,166.5 1424.5,159.7 1428.5,157.0 1444.8,145.0 1460.5,134.3 1476.0,121.5 1490.5,113.9 1517.7,105.7 1544.9,93.5 1564.0,87.5 1572.2,87.5 1585.8,93.5 1599.4,97.6 1613.0,103.0 1626.6,109.8 1634.8,111.2 1642.9,109.8 1660.6,106.6" fill="none" stroke="#ffa500" stroke-width="1" /><rect x="4" y="40" width="1675" height="2" fill="#32cd32"/><rect x="4" y="171" width="1675" height="2" fill="#4169e1"/><rect x="4" y="258" width="1675" height="2" fill="#4169e1"/><rect x="4" y="368" width="1675" height="2" fill="#4169e1"/></g><g clip-path="url(#cd)" shape-rendering="crispEdges"><rect x="4" y="576" width="1" height="55" fill="#c0c0c0"/><rect x="12" y="576" width="1" height="55" fill="#c0c0c0"/><rect x="20" y="583" width="1" height="48" fill="#c0c0c0"/><rect x="28" y="584" width="1" height="47" fill="#c0c0c0"/><rect x="36" y="585" width="1" height="46" fill="#c0c0c0"/><rect x="44" y="587" width="1" height="44" fill="#c0c0c0"/><rect x="52" y="589" width="1" height="42" fill="#c0c0c0"/><rect x="60" y="591" width="1" height="40" fill="#c0c0c0"/><rect x="68" y="593" width="1" height="38" fill="#c0c0c0"/><rect x="76" y="596" width="1" height="35" fill="#c0c0c0"/><rect x="84" y="600" width="1" height="31" fill="#c0c0c0"/><rect x="92" y="604" width="1" height="27" fill="#c0c0c0"/><rect x="100" y="606" width="1" height="25" fill="#c0c0c0"/><rect x="108" y="604" width="1" height="27" fill="#c0c0c0"/><rect x="116" y="605" width="1" height="26" fill="#c0c0c0"/><rect x="124" y="602" width="1" height="29" fill="#c0c0c0"/><rect x="132" y="600" width="1" height="31" fill="#c0c0c0"/><rect x="140" y="599" width="1" height="32" fill="#c0c0c0"/><rect x="148" y="599" width="1" height="32" fill="#c0c0c0"/><rect x="156" y="599" width="1" height="32" fill="#c0c0c0"/><rect x="164" y="601" width="1" height="30" fill="#c0c0c0"/><rect x="172" y="603" width="1" height="28" fill="#c0c0c0"/><rect x="180" y="605" width="1" height="26" fill="#c0c0c0"/><rect x="188" y="607" width="1" height="24" fill="#c0c0c0"/><rect x="196" y="608" width="1" height="23" fill="#c0c0c0"/><rect x="204" y="611" width="1" height="20" fill="#c0c0c0"/><rect x="212" y="615" width="1" height="16" fill="#c0c0c0"/><rect x="220" y="619" width="1" height="12" fill="#c0c0c0"/><rect x="228" y="620" width="1" height="11" fill="#c0c0c0"/><rect x="236" y="621" width="1" height="10" fill="#c0c0c0"/><rect x="244" y="617" width="1" height="14" fill="#c0c0c0"/><rect x="252" y="614" width="1" height="17" fill="#c0c0c0"/><rect x="260" y="614" width="1" height="17" fill="#c0c0c0"/><rect x="268" y="618" width="1" height="13" fill="#c0c0c0"/><rect x="276" y="621" width="1" height="10" fill="#c0c0c0"/><rect x="284" y="623" width="1" height="8" fill="#c0c0c0"/><rect x="292" y="626" width="1" height="5" fill="#c0c0c0"/><rect x="300" y="626" width="1" height="5" fill="#c0c0c0"/><rect x="308" y="625" width="1" height="6" fill="#c0c0c0"/><rect x="316" y="624" width="1" height="7" fill="#c0c0c0"/><rect x="324" y="624" width="1" height="7" fill="#c0c0c0"/><rect x="332" y="623" width="1" height="8" fill="#c0c0c0"/><rect x="340" y="625" width="1" height="6" fill="#c0c0c0"/><rect x="348" y="631" width="1" height="3" fill="#c0c0c0"/><rect x="356" y="631" width="1" height="4" fill="#c0c0c0"/><rect x="364" y="631" width="1" height="4" fill="#c0c0c0"/><rect x="372" y="631" width="1" height="7" fill="#c0c0c0"/><rect x="380" y="631" width="1" height="7" fill="#c0c0c0"/><rect x="388" y="631" width="1" height="8" fill="#c0c0c0"/><rect x="396" y="631" width="1" height="7" fill="#c0c0c0"/><rect x="404" y="630" width="1" height="1" fill="#c0c0c0"/><rect x="412" y="625" width="1" height="6" fill="#c0c0c0"/><rect x="420" y="620" width="1" height="11" fill="#c0c0c0"/><rect x="428" y="615" width="1" height="16" fill="#c0c0c0"/><rect x="436" y="613" width="1" height="18" fill="#c0c0c0"/><rect x="444" y="612" width="1" height="19" fill="#c0c0c0"/><rect x="452" y="610" width="1" height="21" fill="#c0c0c0"/><rect x="460" y="611" width="1" height="20" fill="#c0c0c0"/><rect x="468" y="610" width="1" height="21" fill="#c0c0c0"/><rect x="476" y="610" width="1" height="21" fill="#c0c0c0"/><rect x="484" y="609" width="1" height="22" fill="#c0c0c0"/><rect x="492" y="610" width="1" height="21" fill="#c0c0c0"/><rect x="500" y="609" width="1" height="22" fill="#c0c0c0"/><rect x="508" y="609" width="1" height="22" fill="#c0c0c0"/><rect x="516" y="611" width="1" height="20" fill="#c0c0c0"/><rect x="524" y="612" width="1" height="19" fill="#c0c0c0"/><rect x="532" y="613" width="1" height="18" fill="#c0c0c0"/><rect x="540" y="614" width="1" height="17" fill="#c0c0c0"/><rect x="548" y="613" width="1" height="18" fill="#c0c0c0"/><rect x="556" y="614" width="1" height="17" fill="#c0c0c0"/><rect x="564" y="617" width="1" height="14" fill="#c0c0c0"/><rect x="572" y="619" width="1" height="12" fill="#c0c0c0"/><rect x="580" y="619" width="1" height="12" fill="#c0c0c0"/><rect x="588" y="621" width="1" height="10" fill="#c0c0c0"/><rect x="596" y="623" width="1" height="8" fill="#c0c0c0"/><rect x="604" y="620" width="1" height="11" fill="#c0c0c0"/><rect x="612" y="618" width="1" height="13" fill="#c0c0c0"/><rect x="620" y="616" width="1" height="15" fill="#c0c0c0"/><rect x="628" y="615" width="1" height="16" fill="#c0c0c0"/><rect x="636" y="614" width="1" height="17" fill="#c0c0c0"/><rect x="644" y="613" width="1" height="18" fill="#c0c0c0"/><rect x="652" y="613" width="1" height="18" fill="#c0c0c0"/><rect x="660" y="612" width="1" height="19" fill="#c0c0c0"/><rect x="668" y="611" width="1" height="20" fill="#c0c0c0"/><rect x="676" y="609" width="1" height="22" fill="#c0c0c0"/><rect x="684" y="608" width="1" height="23" fill="#c0c0c0"/><rect x="692" y="608" width="1" height="23" fill="#c0c0c0"/><rect x="700" y="608" width="1" height="23" fill="#c0c0c0"/><rect x="708" y="611" width="1" height="20" fill="#c0c0c0"/><rect x="716" y="609" width="1" height="22" fill="#c0c0c0"/><rect x="724" y="609" width="1" height="22" fill="#c0c0c0"/><rect x="732" y="607" width="1" height="24" fill="#c0c0c0"/><rect x="740" y="605" width="1" height="26" fill="#c0c0c0"/><rect x="748" y="605" width="1" height="26" fill="#c0c0c0"/><rect x="756" y="609" width="1" height="22" fill="#c0c0c0"/><rect x="764" y="612" width="1" height="19" fill="#c0c0c0"/><rect x="772" y="616" width="1" height="15" fill="#c0c0c0"/><rect x="780" y="620" width="1" height="11" fill="#c0c0c0"/><rect x="788" y="623" width="1" height="8" fill="#c0c0c0"/><rect x="796" y="626" width="1" height="5" fill="#c0c0c0"/><rect x="804" y="628" width="1" height="3" fill="#c0c0c0"/><rect x="812" y="631" width="1" height="5" fill="#c0c0c0"/><rect x="820" y="631" width="1" height="14" fill="#c0c0c0"/><rect x="828" y="631" width="1" height="21" fill="#c0c0c0"/><rect x="836" y="631" width="1" height="27" fill="#c0c0c0"/><rect x="844" y="631" width="1" height="31" fill="#c0c0c0"/><rect x="852" y="631" width="1" height="32" fill="#c0c0c0"/><rect x="860" y="631" width="1" height="30" fill="#c0c0c0"/><rect x="868" y="631" width="1" height="28" fill="#c0c0c0"/><rect x="876" y="631" width="1" height="25" fill="#c0c0c0"/><rect x="884" y="631" width="1" height="25" fill="#c0c0c0"/><rect x="892" y="631" width="1" height="26" fill="#c0c0c0"/><rect x="900" y="631" width="1" height="34" fill="#c0c0c0"/><rect x="908" y="631" width="1" height="44" fill="#c0c0c0"/><rect x="916" y="631" width="1" height="52" fill="#c0c0c0"/><rect x="924" y="631" width="1" height="59" fill="#c0c0c0"/><rect x="932" y="631" width="1" height="67" fill="#c0c0c0"/><rect x="940" y="631" width="1" height="65" fill="#c0c0c0"/><rect x="948" y="631" width="1" height="61" fill="#c0c0c0"/><rect x="956" y="631" width="1" height="49" fill="#c0c0c0"/><rect x="964" y="631" width="1" height="37" fill="#c0c0c0"/><rect x="972" y="631" width="1" height="26" fill="#c0c0c0"/><rect x="980" y="631" width="1" height="17" fill="#c0c0c0"/><rect x="988" y="631" width="1" height="12" fill="#c0c0c0"/><rect x="996" y="631" width="1" height="5" fill="#c0c0c0"/><rect x="1004" y="631" width="1" height="1" fill="#c0c0c0"/><rect x="1012" y="622" width="1" height="9" fill="#c0c0c0"/><rect x="1020" y="616" width="1" height="15" fill="#c0c0c0"/><rect x="1028" y="610" width="1" height="21" fill="#c0c0c0"/><rect x="1036" y="606" width="1" height="25" fill="#c0c0c0"/><rect x="1044" y="604" width="1" height="27" fill="#c0c0c0"/><rect x="1052" y="604" width="1" height="27" fill="#c0c0c0"/><rect x="1060" y="604" width="1" height="27" fill="#c0c0c0"/><rect x="1068" y="604" width="1" height="27" fill="#c0c0c0"/><rect x="1076" y="602" width="1" height="29" fill="#c0c0c0"/><rect x="1084" y="601" width="1" height="30" fill="#c0c0c0"/><rect x="1092" y="598" width="1" height="33" fill="#c0c0c0"/><rect x="1100" y="596" width="1" height="35" fill="#c0c0c0"/><rect x="1108" y="595" width="1" height="36" fill="#c0c0c0"/><rect x="1116" y="593" width="1" height="38" fill="#c0c0c0"/><rect x="1124" y="592" width="1" height="39" fill="#c0c0c0"/><rect x="1132" y="592" width="1" height="39" fill="#c0c0c0"/><rect x="1140" y="592" width="1" height="39" fill="#c0c0c0"/><rect x="1148" y="590" width="1" height="41" fill="#c0c0c0"/><rect x="1156" y="589" width="1" height="42" fill="#c0c0c0"/><rect x="1164" y="588" width="1" height="43" fill="#c0c0c0"/><rect x="1172" y="587" width="1" height="44" fill="#c0c0c0"/><rect x="1180" y="587" width="1" height="44" fill="#c0c0c0"/><rect x="1188" y="588" width="1" height="43" fill="#c0c0c0"/><rect x="1196" y="589" width="1" height="42" fill="#c0c0c0"/><rect x="1204" y="591" width="1" height="40" fill="#c0c0c0"/><rect x="1212" y="590" width="1" height="41" fill="#c0c0c0"/><rect x="1220" y="591" width="1" height="40" fill="#c0c0c0"/><rect x="1228" y="593" width="1" height="38" fill="#c0c0c0"/><rect x="1236" y="594" width="1" height="37" fill="#c0c0c0"/><rect x="1244" y="595" width="1" height="36" fill="#c0c0c0"/><rect x="1252" y="595" width="1" height="36" fill="#c0c0c0"/><rect x="1260" y="596" width="1" height="35" fill="#c0c0c0"/><rect x="1268" y="596" width="1" height="35" fill="#c0c0c0"/><rect x="1276" y="596" width="1" height="35" fill="#c0c0c0"/><rect x="1284" y="597" width="1" height="34" fill="#c0c0c0"/><rect x="1292" y="599" width="1" height="32" fill="#c0c0c0"/><rect x="1300" y="601" width="1" height="30" fill="#c0c0c0"/><rect x="1308" y="601" width="1" height="30" fill="#c0c0c0"/><rect x="1316" y="600" width="1" height="31" fill="#c0c0c0"/><rect x="1324" y="600" width="1" height="31" fill="#c0c0c0"/><rect x="1332" y="599" width="1" height="32" fill="#c0c0c0"/><rect x="1340" y="599" width="1" height="32" fill="#c0c0c0"/><rect x="1348" y="599" width="1" height="32" fill="#c0c0c0"/><rect x="1356" y="596" width="1" height="35" fill="#c0c0c0"/><rect x="1364" y="595" width="1" height="36" fill="#c0c0c0"/><rect x="1372" y="594" width="1" height="37" fill="#c0c0c0"/><rect x="1380" y="593" width="1" height="38" fill="#c0c0c0"/><rect x="1388" y="592" width="1" height="39" fill="#c0c0c0"/><rect x="1396" y="589" width="1" height="42" fill="#c0c0c0"/><rect x="1404" y="583" width="1" height="48" fill="#c0c0c0"/><rect x="1412" y="580" width="1" height="51" fill="#c0c0c0"/><rect x="1420" y="579" width="1" height="52" fill="#c0c0c0"/><rect x="1428" y="579" width="1" height="52" fill="#c0c0c0"/><rect x="1436" y="580" width="1" height="51" fill="#c0c0c0"/><rect x="1444" y="580" width="1" height="51" fill="#c0c0c0"/><rect x="1452" y="579" width="1" height="52" fill="#c0c0c0"/><rect x="1460" y="580" width="1" height="51" fill="#c0c0c0"/><rect x="1468" y="581" width="1" height="50" fill="#c0c0c0"/><rect x="1476" y="583" width="1" height="48" fill="#c0c0c0"/><rect x="1484" y="585" width="1" height="46" fill="#c0c0c0"/><rect x="1492" y="587" width="1" height="44" fill="#c0c0c0"/><rect x="1500" y="595" width="1" height="36" fill="#c0c0c0"/><rect x="1508" y="598" width="1" height="33" fill="#c0c0c0"/><rect x="1516" y="602" width="1" height="29" fill="#c0c0c0"/><rect x="1524" y="604" width="1" height="27" fill="#c0c0c0"/><rect x="1532" y="605" width="1" height="26" fill="#c0c0c0"/><rect x="1540" y="604" width="1" height="27" fill="#c0c0c0"/><rect x="1548" y="604" width="1" height="27" fill="#c0c0c0"/><rect x="1556" y="603" width="1" height="28" fill="#c0c0c0"/><rect x="1564" y="601" width="1" height="30" fill="#c0c0c0"/><rect x="1572" y="604" width="1" height="27" fill="#c0c0c0"/><rect x="1580" y="612" width="1" height="19" fill="#c0c0c0"/><rect x="1588" y="625" width="1" height="6" fill="#c0c0c0"/><rect x="1596" y="629" width="1" height="2" fill="#c0c0c0"/><rect x="1604" y="631" width="1" height="2" fill="#c0c0c0"/><rect x="1612" y="631" width="1" height="5" fill="#c0c0c0"/><rect x="1620" y="631" width="1" height="10" fill="#c0c0c0"/><rect x="1628" y="631" width="1" height="9" fill="#c0c0c0"/><rect x="1636" y="631" width="1" height="4" fill="#c0c0c0"/><rect x="1644" y="630" width="1" height="1" fill="#c0c0c0"/><rect x="1652" y="620" width="1" height="11" fill="#c0c0c0"/><rect x="1660" y="614" width="1" height="17" fill="#c0c0c0"/><path d="M4,590.2L7,588.8M10,587.3L13,585.9M16,585.1L19,584.3M22,583.5L25,582.7M28,582.3L31,582.0M34,581.7L37,581.4M40,581.3L43,581.3M46,581.3L49,581.3M52,581.4L55,581.9M58,582.3L61,582.7M64,583.2L67,583.9M70,584.7L73,585.5M76,586.2L79,587.2M82,588.3L85,589.3M88,590.3L91,591.2M94,592.0L97,592.7M100,593.5L103,594.3M106,595.2L109,596.2M112,597.1L115,598.0M118,598.4L121,598.8M124,599.2L127,599.6M130,600.0L133,600.3M136,600.7L139,601.0M142,601.2L145,601.2M148,601.2L151,601.2M154,601.2L157,601.2M160,601.2L163,601.2M166,601.2L169,601.3M172,601.3L175,601.4M178,601.4L181,601.5M184,601.6L187,601.6M190,601.7L193,601.9M196,602.2L199,602.5M202,602.8L205,603.2M208,603.9L211,604.6M214,605.3L217,606.0M220,607.0L223,607.9M226,608.8L229,609.8M232,610.5L235,611.1M238,611.8L241,612.4M244,612.9L247,613.2M250,613.5L253,613.8M256,614.1L259,614.5M262,615.0L265,615.4M268,615.8L271,616.4M274,617.0L277,617.6M280,618.1L283,618.4M286,618.6L289,618.7M292,618.9L295,619.0M298,619.2L301,619.3M304,619.5L307,619.7M310,619.9L313,620.2M316,620.5L319,620.8M322,621.1L325,621.4M328,621.6L331,621.9M334,622.4L337,622.9M340,623.4L343,623.9M346,624.5L349,625.1M352,625.7L355,626.2M358,626.8L361,627.2M364,627.6L367,628.1M370,628.5L373,628.9M376,629.3L379,629.8M382,630.2L385,630.8M388,631.4L391,632.0M394,632.7L397,633.2M400,633.5L403,633.8M406,634.1L409,634.3M412,633.7L415,633.0M418,632.4L421,631.8M424,631.1L427,630.3M430,629.5L433,628.7M436,628.0L439,627.2M442,626.3L445,625.3M448,624.5L451,623.8M454,623.1L457,621.9M460,620.3L463,618.7M466,617.0L469,615.6M472,614.7L475,613.8M478,612.9L481,612.0M484,611.7L487,611.4M490,611.1L493,610.8M496,610.6L499,610.4M502,610.2L505,610.0M508,609.9L511,609.9M514,609.9L517,609.9M520,609.9L523,609.9M526,609.9L529,609.9M532,609.9L535,610.1M538,610.2L541,610.4M544,610.5L547,610.7M550,610.8L553,611.0M556,611.1L559,611.4M562,611.9L565,612.4M568,612.8L571,613.3M574,613.6L577,613.9M580,614.2L583,614.5M586,614.9L589,615.3M592,615.8L595,616.2M598,616.4L601,616.6M604,616.7L607,616.9M610,617.1L613,617.4M616,617.7L619,618.1M622,618.3L625,618.2M628,618.0L631,617.9M634,617.8L637,617.6M640,617.4L643,617.2M646,617.1L649,616.7M652,616.2L655,615.7M658,615.3L661,614.8M664,614.4L667,614.0M670,613.6L673,613.1M676,612.7L679,612.3M682,611.9L685,611.4M688,611.2L691,611.1M694,610.9L697,610.8M700,610.6L703,610.4M706,610.2L709,610.0M712,609.9L715,609.7M718,609.6L721,609.5M724,609.3L727,609.0M730,608.7L733,608.4M736,608.1L739,607.8M742,607.5L745,607.2M748,606.9L751,607.0M754,607.3L757,607.6M760,607.9L763,608.2M766,608.4L769,608.5M772,608.7L775,609.0M778,609.6L781,610.2M784,610.8L787,611.3M790,612.1L793,612.8M796,613.5L799,614.3M802,615.3L805,616.5M808,617.7L811,618.9M814,620.3L817,622.1M820,623.9L823,625.7M826,627.5L829,629.3M832,631.1L835,632.9M838,634.7L841,636.5M844,638.3L847,640.2M850,642.0L853,643.6M856,645.1L859,646.6M862,648.1L865,649.3M868,650.1L871,651.3M874,653.2L877,654.3M880,654.8L883,655.4M886,655.9L889,656.2M892,656.5L895,657.2M898,658.2L901,659.2M904,660.0L907,660.7M910,661.5L913,662.4M916,663.5L919,664.6M922,665.7L925,666.8M928,668.1L931,669.4M934,670.8L937,672.1M940,673.5L943,674.9M946,676.3L949,677.7M952,678.7L955,679.7M958,680.7L961,681.8M964,681.8L967,681.3M970,680.9L973,680.4M976,679.5L979,677.9M982,676.2L985,674.6M988,672.9L991,670.8M994,668.8L997,666.7M1000,664.6L1003,661.9M1006,659.2L1009,656.5M1012,653.7L1015,650.6M1018,647.3L1021,644.1M1024,640.8L1027,637.7M1030,635.0L1033,632.4M1036,629.7L1039,627.1M1042,625.0L1045,622.8M1048,620.7L1051,618.6M1054,617.1L1057,615.8M1060,614.4L1063,613.0M1066,611.7L1069,610.3M1072,609.0L1075,607.7M1078,606.5L1081,605.6M1084,604.7L1087,603.8M1090,603.0L1093,602.5M1096,602.0L1099,601.5M1102,601.1L1105,600.6M1108,600.2L1111,599.8M1114,599.4L1117,598.8M1120,598.2L1123,597.6M1126,597.0L1129,596.5M1132,596.2L1135,595.9M1138,595.7L1141,595.4M1144,594.7L1147,594.1M1150,593.5L1153,592.9M1156,592.4L1159,591.9M1162,591.5L1165,591.0M1168,590.6L1171,590.1M1174,589.7L1177,589.3M1180,589.0L1183,588.8M1186,588.7L1189,588.6M1192,588.5L1195,588.5M1198,588.5L1201,588.5M1204,588.5L1207,588.5M1210,588.5L1213,588.5M1216,588.5L1219,588.6M1222,588.7L1225,588.8M1228,588.9L1231,589.1M1234,589.6L1237,590.0M1240,590.4L1243,590.8M1246,591.0L1249,591.1M1252,591.3L1255,591.5M1258,591.6L1261,591.7M1264,591.8L1267,591.9M1270,592.2L1273,592.6M1276,593.0L1279,593.3M1282,593.7L1285,594.2M1288,594.6L1291,595.0M1294,595.4L1297,595.4M1300,595.4L1303,595.6M1306,595.8L1309,596.1M1312,596.3L1315,596.5M1318,596.7L1321,596.9M1324,597.1L1327,597.3M1330,597.5L1333,597.8M1336,597.9L1339,598.0M1342,598.0L1345,598.1M1348,598.2L1351,598.2M1354,598.3L1357,598.3M1360,598.4L1363,598.2M1366,597.8L1369,597.5M1372,597.2L1375,596.9M1378,596.5L1381,596.1M1384,595.7L1387,595.3M1390,595.0L1393,594.7M1396,594.4L1399,594.1M1402,593.1L1405,592.2M1408,591.3L1411,590.4M1414,589.9L1417,589.5M1420,589.1L1423,588.7M1426,588.0L1429,587.0M1432,586.0L1435,585.1M1438,584.2L1441,583.6M1444,583.0L1447,582.4M1450,581.8L1453,581.4M1456,580.9L1459,580.5M1462,580.1L1465,579.9M1468,579.7L1471,579.5M1474,579.4L1477,579.4M1480,579.7L1483,580.0M1486,580.3L1489,580.6M1492,581.0L1495,581.4M1498,581.7L1501,582.1M1504,583.1L1507,584.1M1510,585.1L1513,586.2M1516,587.2L1519,588.2M1522,589.3L1525,590.3M1528,591.2L1531,592.1M1534,593.0L1537,593.9M1540,594.8L1543,595.6M1546,596.4L1549,597.1M1552,597.9L1555,598.7M1558,599.4L1561,600.2M1564,601.0L1567,601.7M1570,602.3L1573,602.9M1576,603.5L1579,604.2M1582,604.9L1585,605.6M1588,606.3L1591,607.1M1594,608.3L1597,609.5M1600,610.8L1603,612.0M1606,613.4L1609,614.7M1612,616.1L1615,617.4M1618,618.9L1621,620.4M1624,621.9L1627,623.4M1630,624.7L1633,625.7M1636,626.7L1639,627.7M1642,628.7L1645,629.4M1648,630.1L1651,630.9M1654,631.6L1657,631.1M1660,630.7L1661,630.6" fill="none" stroke="#ff0000" stroke-width="1"/></g><g clip-path="url(#cr)" shape-rendering="crispEdges"><line x1="5" y1="742.5" x2="1679" y2="742.5" stroke="#c0c0c0" stroke-dasharray="3,3"/><line x1="5" y1="788.5" x2="1679" y2="788.5" stroke="#c0c0c0" stroke-dasharray="3,3"/><polyline points="4.5,743.3 12.5,754.3 20.5,757.3 28.5,754.3 36.5,752.2 44.5,752.2 52.5,753.5 60.5,754.3 68.5,755.3 76.5,756.6 84.5,759.4 92.5,763.0 100.5,758.6 108.5,750.4 116.5,757.3 124.5,749.2 132.5,749.2 140.5,751.5 148.5,750.2 156.5,751.5 164.5,759.1 172.5,758.1 180.5,756.6 188.5,757.3 196.5,757.3 204.5,760.4 212.5,769.3 220.5,769.3 228.5,762.4 236.5,761.2 244.5,750.2 252.5,745.8 260.5,761.7 268.5,765.5 276.5,768.0 284.5,766.3 292.5,768.0 300.5,764.5 308.5,758.1 316.5,762.4 324.5,760.1 332.5,760.1 340.5,767.0 348.5,781.1 356.5,767.0 364.5,770.1 372.5,772.1 380.5,768.3 388.5,769.3 396.5,766.3 404.5,753.5 412.5,750.2 420.5,752.2 428.5,751.5 436.5,754.8 444.5,756.6 452.5,752.2 460.5,759.9 468.5,756.6 476.5,756.6 484.5,755.3 492.5,758.6 500.5,753.5 508.5,760.4 516.5,759.4 524.5,758.6 532.5,758.6 540.5,759.4 548.5,754.3 556.5,757.3 564.5,765.0 572.5,763.7 580.5,761.7 588.5,764.5 596.5,766.3 604.5,753.5 612.5,752.2 620.5,753.5 628.5,751.5 636.5,754.3 644.5,750.4 652.5,758.1 660.5,751.5 668.5,752.2 676.5,749.7 684.5,749.7 692.5,749.7 700.5,752.2 708.5,764.2 716.5,751.5 724.5,752.2 732.5,747.9 740.5,746.3 748.5,750.4 756.5,765.5 764.5,763.7 772.5,769.3 780.5,768.3 788.5,770.1 796.5,771.4 804.5,770.6 812.5,784.1 820.5,791.3 828.5,788.5 836.5,790.5 844.5,786.7 852.5,780.3 860.5,773.9 868.5,771.9 876.5,770.6 884.5,775.2 892.5,780.3 900.5,791.8 908.5,795.6 916.5,797.4 924.5,797.4 932.5,801.5 940.5,779.5 948.5,776.0 956.5,761.2 964.5,759.1 972.5,757.8 980.5,756.6 988.5,762.4 996.5,757.8 1004.5,756.6 1012.5,752.7 1020.5,751.5 1028.5,750.4 1036.5,752.2 1044.5,754.3 1052.5,753.5 1060.5,758.6 1068.5,755.3 1076.5,752.7 1084.5,752.2 1092.5,748.9 1100.5,748.4 1108.5,746.6 1116.5,745.3 1124.5,743.3 1132.5,748.4 1140.5,748.4 1148.5,743.8 1156.5,742.5 1164.5,742.5 1172.5,739.5 1180.5,744.0 1188.5,743.3 1196.5,744.6 1204.5,747.1 1212.5,741.5 1220.5,745.1 1228.5,748.9 1236.5,746.6 1244.5,748.4 1252.5,744.6 1260.5,747.1 1268.5,744.6 1276.5,745.1 1284.5,745.8 1292.5,752.7 1300.5,750.4 1308.5,747.9 1316.5,744.6 1324.5,743.3 1332.5,738.2 1340.5,748.9 1348.5,745.3 1356.5,740.2 1364.5,742.5 1372.5,741.2 1380.5,739.0 1388.5,740.2 1396.5,731.8 1404.5,729.2 1412.5,733.1 1420.5,734.9 1428.5,736.9 1436.5,739.0 1444.5,736.1 1452.5,735.1 1460.5,739.0 1468.5,737.4 1476.5,742.0 1484.5,745.8 1492.5,745.1 1500.5,768.0 1508.5,757.3 1516.5,761.2 1524.5,758.1 1532.5,754.8 1540.5,753.0 1548.5,752.2 1556.5,748.4 1564.5,748.4 1572.5,756.8 1580.5,775.2 1588.5,785.4 1596.5,770.6 1604.5,770.6 1612.5,773.4 1620.5,775.2 1628.5,767.5 1636.5,760.6 1644.5,753.0 1652.5,751.5 1660.5,751.5" fill="none" stroke="#1e90ff" stroke-width="1" /></g><g shape-rendering="crispEdges"><rect x="3" y="7" width="1677" height="1" fill="#000"/><rect x="3" y="565" width="1677" height="1" fill="#000"/><rect x="3" y="7" width="1" height="559" fill="#000"/><rect x="1679" y="7" width="1" height="559" fill="#000"/><rect x="3" y="567" width="1677" height="1" fill="#000"/><rect x="3" y="704" width="1677" height="1" fill="#000"/><rect x="3" y="567" width="1" height="138" fill="#000"/><rect x="1679" y="567" width="1" height="138" fill="#000"/><rect x="3" y="706" width="1677" height="1" fill="#000"/><rect x="3" y="823" width="1677" height="1" fill="#000"/><rect x="3" y="706" width="1" height="118" fill="#000"/><rect x="1679" y="706" width="1" height="118" fill="#000"/></g><g shape-rendering="crispEdges"></g><rect x="1680" y="33" width="2" height="1" fill="#000"/><text x="1685" y="37" class="ax" textLength="37.78" lengthAdjust="spacingAndGlyphs">4363.300</text><rect x="1680" y="66" width="2" height="1" fill="#000"/><text x="1685" y="70" class="ax" textLength="37.78" lengthAdjust="spacingAndGlyphs">4348.285</text><rect x="1680" y="100" width="2" height="1" fill="#000"/><text x="1685" y="104" class="ax" textLength="37.78" lengthAdjust="spacingAndGlyphs">4332.815</text><rect x="1680" y="133" width="2" height="1" fill="#000"/><text x="1685" y="137" class="ax" textLength="37.78" lengthAdjust="spacingAndGlyphs">4317.800</text><rect x="1680" y="166" width="2" height="1" fill="#000"/><text x="1685" y="170" class="ax" textLength="37.78" lengthAdjust="spacingAndGlyphs">4302.785</text><rect x="1680" y="199" width="2" height="1" fill="#000"/><text x="1685" y="203" class="ax" textLength="37.78" lengthAdjust="spacingAndGlyphs">4287.770</text><rect x="1680" y="232" width="2" height="1" fill="#000"/><text x="1685" y="236" class="ax" textLength="37.78" lengthAdjust="spacingAndGlyphs">4272.755</text><rect x="1680" y="266" width="2" height="1" fill="#000"/><text x="1685" y="270" class="ax" textLength="37.78" lengthAdjust="spacingAndGlyphs">4257.285</text><rect x="1680" y="298" width="2" height="1" fill="#000"/><text x="1685" y="302" class="ax" textLength="37.78" lengthAdjust="spacingAndGlyphs">4242.270</text><rect x="1680" y="331" width="2" height="1" fill="#000"/><text x="1685" y="335" class="ax" textLength="37.78" lengthAdjust="spacingAndGlyphs">4227.255</text><rect x="1680" y="364" width="2" height="1" fill="#000"/><text x="1685" y="368" class="ax" textLength="37.78" lengthAdjust="spacingAndGlyphs">4212.240</text><rect x="1680" y="397" width="2" height="1" fill="#000"/><text x="1685" y="401" class="ax" textLength="37.78" lengthAdjust="spacingAndGlyphs">4197.225</text><rect x="1680" y="431" width="2" height="1" fill="#000"/><text x="1685" y="435" class="ax" textLength="37.78" lengthAdjust="spacingAndGlyphs">4181.755</text><rect x="1680" y="464" width="2" height="1" fill="#000"/><text x="1685" y="468" class="ax" textLength="37.78" lengthAdjust="spacingAndGlyphs">4166.740</text><rect x="1680" y="497" width="2" height="1" fill="#000"/><text x="1685" y="501" class="ax" textLength="37.78" lengthAdjust="spacingAndGlyphs">4151.725</text><rect x="1680" y="530" width="2" height="1" fill="#000"/><text x="1685" y="534" class="ax" textLength="37.78" lengthAdjust="spacingAndGlyphs">4136.710</text><rect x="1680" y="562" width="2" height="1" fill="#000"/><text x="1685" y="566" class="ax" textLength="37.78" lengthAdjust="spacingAndGlyphs">4121.695</text><rect x="1681" y="46" width="43" height="3" fill="#000"/><rect x="1681" y="35" width="43" height="11" fill="#32cd32"/><text x="1685" y="44" class="ax" textLength="37.78" lengthAdjust="spacingAndGlyphs" style="fill:#fff;stroke:#fff">4360.000</text><rect x="1681" y="166" width="43" height="11" fill="#4169e1"/><text x="1685" y="175" class="ax" textLength="37.78" lengthAdjust="spacingAndGlyphs" style="fill:#fff;stroke:#fff">4300.000</text><rect x="1681" y="253" width="43" height="11" fill="#4169e1"/><text x="1685" y="262" class="ax" textLength="37.78" lengthAdjust="spacingAndGlyphs" style="fill:#fff;stroke:#fff">4260.000</text><rect x="1681" y="363" width="43" height="11" fill="#4169e1"/><text x="1685" y="372" class="ax" textLength="37.78" lengthAdjust="spacingAndGlyphs" style="fill:#fff;stroke:#fff">4210.000</text><rect x="1673" y="169" width="6" height="6" fill="#4169e1"/><rect x="1675" y="171" width="2" height="2" fill="#fff"/><rect x="3" y="169" width="6" height="6" fill="#4169e1"/><rect x="5" y="171" width="2" height="2" fill="#fff"/><text x="1683.5" y="578" class="ax" textLength="27.52" lengthAdjust="spacingAndGlyphs">20.264</text><text x="1683.5" y="634" class="ax" textLength="17.51" lengthAdjust="spacingAndGlyphs">0.00</text><text x="1683.5" y="701" class="ax" textLength="35.53" lengthAdjust="spacingAndGlyphs">-24.0303</text><rect x="1680" y="569" width="1" height="1" fill="#000"/><rect x="1680" y="630" width="1" height="1" fill="#000"/><text x="1683.5" y="717" class="ax" textLength="15.35" lengthAdjust="spacingAndGlyphs">100</text><text x="1683.5" y="746" class="ax" textLength="10.23" lengthAdjust="spacingAndGlyphs">70</text><text x="1683.5" y="792" class="ax" textLength="10.23" lengthAdjust="spacingAndGlyphs">30</text><text x="1683.5" y="820" class="ax" textLength="5.12" lengthAdjust="spacingAndGlyphs">0</text><rect x="1680" y="708" width="1" height="1" fill="#000"/><rect x="4" y="824" width="1" height="3" fill="#000"/><text x="3" y="836" class="ax" textLength="54.92" lengthAdjust="spacingAndGlyphs">25 May 2021</text><rect x="68" y="824" width="1" height="3" fill="#000"/><text x="67" y="836" class="ax" textLength="57.56" lengthAdjust="spacingAndGlyphs">26 May 16:00</text><rect x="132" y="824" width="1" height="3" fill="#000"/><text x="131" y="836" class="ax" textLength="57.56" lengthAdjust="spacingAndGlyphs">28 May 00:00</text><rect x="196" y="824" width="1" height="3" fill="#000"/><text x="195" y="836" class="ax" textLength="57.56" lengthAdjust="spacingAndGlyphs">31 May 04:00</text><rect x="260" y="824" width="1" height="3" fill="#000"/><text x="259" y="836" class="ax" textLength="48.34" lengthAdjust="spacingAndGlyphs">1 Jun 12:00</text><rect x="324" y="824" width="1" height="3" fill="#000"/><text x="323" y="836" class="ax" textLength="48.34" lengthAdjust="spacingAndGlyphs">2 Jun 20:00</text><rect x="388" y="824" width="1" height="3" fill="#000"/><text x="387" y="836" class="ax" textLength="48.34" lengthAdjust="spacingAndGlyphs">4 Jun 04:00</text><rect x="452" y="824" width="1" height="3" fill="#000"/><text x="451" y="836" class="ax" textLength="48.34" lengthAdjust="spacingAndGlyphs">7 Jun 08:00</text><rect x="516" y="824" width="1" height="3" fill="#000"/><text x="515" y="836" class="ax" textLength="48.34" lengthAdjust="spacingAndGlyphs">8 Jun 16:00</text><rect x="580" y="824" width="1" height="3" fill="#000"/><text x="579" y="836" class="ax" textLength="53.49" lengthAdjust="spacingAndGlyphs">10 Jun 00:00</text><rect x="644" y="824" width="1" height="3" fill="#000"/><text x="643" y="836" class="ax" textLength="52.80" lengthAdjust="spacingAndGlyphs">11 Jun 08:00</text><rect x="708" y="824" width="1" height="3" fill="#000"/><text x="707" y="836" class="ax" textLength="53.49" lengthAdjust="spacingAndGlyphs">14 Jun 12:00</text><rect x="772" y="824" width="1" height="3" fill="#000"/><text x="771" y="836" class="ax" textLength="53.49" lengthAdjust="spacingAndGlyphs">15 Jun 20:00</text><rect x="836" y="824" width="1" height="3" fill="#000"/><text x="835" y="836" class="ax" textLength="53.49" lengthAdjust="spacingAndGlyphs">17 Jun 04:00</text><rect x="900" y="824" width="1" height="3" fill="#000"/><text x="899" y="836" class="ax" textLength="53.49" lengthAdjust="spacingAndGlyphs">18 Jun 12:00</text><rect x="964" y="824" width="1" height="3" fill="#000"/><text x="963" y="836" class="ax" textLength="53.49" lengthAdjust="spacingAndGlyphs">21 Jun 16:00</text><rect x="1028" y="824" width="1" height="3" fill="#000"/><text x="1027" y="836" class="ax" textLength="53.49" lengthAdjust="spacingAndGlyphs">23 Jun 00:00</text><rect x="1092" y="824" width="1" height="3" fill="#000"/><text x="1091" y="836" class="ax" textLength="53.49" lengthAdjust="spacingAndGlyphs">24 Jun 08:00</text><rect x="1156" y="824" width="1" height="3" fill="#000"/><text x="1155" y="836" class="ax" textLength="53.49" lengthAdjust="spacingAndGlyphs">25 Jun 16:00</text><rect x="1220" y="824" width="1" height="3" fill="#000"/><text x="1219" y="836" class="ax" textLength="53.49" lengthAdjust="spacingAndGlyphs">28 Jun 20:00</text><rect x="1284" y="824" width="1" height="3" fill="#000"/><text x="1283" y="836" class="ax" textLength="53.49" lengthAdjust="spacingAndGlyphs">30 Jun 04:00</text><rect x="1348" y="824" width="1" height="3" fill="#000"/><text x="1347" y="836" class="ax" textLength="45.25" lengthAdjust="spacingAndGlyphs">1 Jul 12:00</text><rect x="1412" y="824" width="1" height="3" fill="#000"/><text x="1411" y="836" class="ax" textLength="45.25" lengthAdjust="spacingAndGlyphs">2 Jul 20:00</text><rect x="1476" y="824" width="1" height="3" fill="#000"/><text x="1475" y="836" class="ax" textLength="45.25" lengthAdjust="spacingAndGlyphs">6 Jul 00:00</text><rect x="1540" y="824" width="1" height="3" fill="#000"/><text x="1539" y="836" class="ax" textLength="45.25" lengthAdjust="spacingAndGlyphs">7 Jul 08:00</text><rect x="1604" y="824" width="1" height="3" fill="#000"/><text x="1603" y="836" class="ax" textLength="45.25" lengthAdjust="spacingAndGlyphs">8 Jul 16:00</text><path d="M7.5 14.5 h7 l-3.5 4 z" fill="#000"/><text x="19" y="19" class="ax" textLength="211.02" lengthAdjust="spacingAndGlyphs">SP500-,H4&#160; 4360.500 4360.750 4358.000 4359.000</text><text x="8" y="580" class="ax" textLength="127.61" lengthAdjust="spacingAndGlyphs">MACD(12,26,9) 5.5722 0.0828</text><text x="8" y="719" class="ax" textLength="67.36" lengthAdjust="spacingAndGlyphs">RSI(14) 61.8735</text><text x="716" y="119" class="cn">多空转折点<tspan style="font-size:37.5px">4360</tspan></text>
</svg>
</body></html>
